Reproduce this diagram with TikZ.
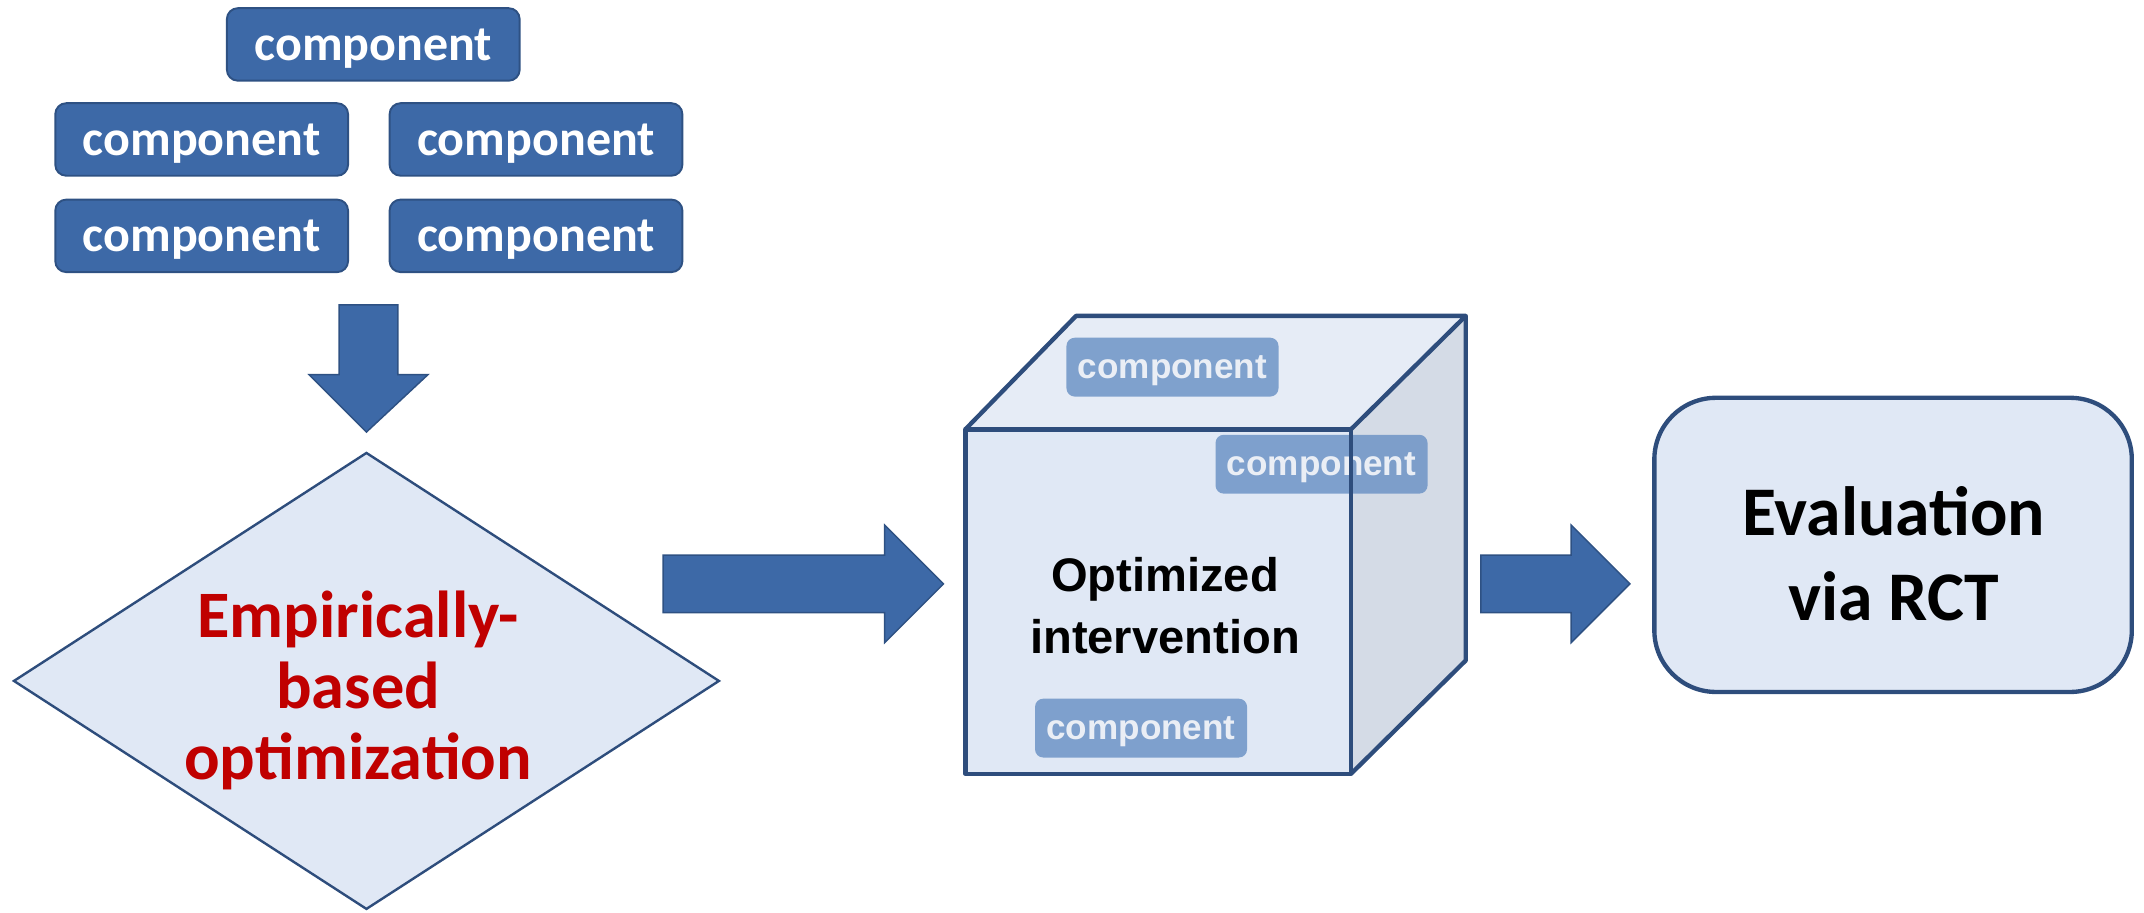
\documentclass[tikz,border=0pt]{standalone}
\usepackage{fontspec}
\setmainfont{Carlito}
\newfontfamily\arialfont{Liberation Sans}
\usetikzlibrary{shapes.geometric}
\definecolor{compblue}{RGB}{61,105,167}
\definecolor{compborder}{RGB}{46,81,131}
\definecolor{lightfill}{RGB}{224,232,245}
\definecolor{topface}{RGB}{230,236,246}
\definecolor{sideface}{RGB}{212,219,230}
\definecolor{edgeblue}{RGB}{46,77,124}
\definecolor{softblue}{RGB}{110,148,198}
\definecolor{softtext}{RGB}{240,243,248}
\definecolor{darkred}{RGB}{192,0,0}
\begin{document}
\begin{tikzpicture}[x=0.01cm,y=-0.01cm,
  comp/.style={draw=compborder, fill=compblue, rounded corners=0.08cm,
    minimum width=2.14cm, minimum height=0.53cm, inner sep=0pt, text=white, text depth=0pt,
    font=\fontsize{10.4}{12}\selectfont\bfseries},
  cubecomp/.style={fill=softblue, fill opacity=0.85, text opacity=0.95, rounded corners=0.06cm,
    minimum width=1.55cm, minimum height=0.43cm, inner sep=0pt, text=softtext, text depth=0pt,
    font=\arialfont\fontsize{7.3}{9}\selectfont\bfseries},
  blockarrow/.style={fill=compblue, draw=compborder, line width=0.3pt},
  cubeedge/.style={draw=edgeblue, line width=0.9pt, line join=round}
]
\useasboundingbox (0,0) rectangle (1568,667);

% components
\node[comp] (c1) at (273,32.5) {component};
\node[comp] (c2) at (147.5,102) {component};
\node[comp] (c3) at (392,102) {component};
\node[comp] (c4) at (147.5,172.5) {component};
\node[comp] (c5) at (392,172.5) {component};

% down arrow
\draw[blockarrow] (248,223) -- (291,223) -- (291,274) -- (313,274) -- (268,316) -- (226,274) -- (248,274) -- cycle;

% diamond
\node[diamond, draw=edgeblue, fill=lightfill, line width=0.5pt, minimum width=5.16cm, minimum height=3.34cm, inner sep=0pt] (opt) at (268,498) {};
\node[text=darkred, align=center, font=\fontsize{13.8}{14.8}\selectfont\bfseries] (optlabel) at (262,505) {Empirically-\\based\\optimization};

% arrow 1
\draw[blockarrow] (485,406) -- (647,406) -- (647,384) -- (690,427) -- (647,470) -- (647,448) -- (485,448) -- cycle;

% cube
\coordinate (ftl) at (706,314);
\coordinate (ftr) at (988,314);
\coordinate (fbl) at (706,566);
\coordinate (fbr) at (988,566);
\coordinate (btl) at (787,231);
\coordinate (btr) at (1072,231);
\coordinate (bbr) at (1072,483);
\fill[lightfill] (ftl) rectangle (fbr);
\fill[topface] (ftl) -- (btl) -- (btr) -- (ftr) -- cycle;
\fill[sideface] (ftr) -- (btr) -- (bbr) -- (fbr) -- cycle;
\node[cubecomp] (k1) at (857.5,268.5) {component};
\node[cubecomp] (k2) at (966.5,339.5) {component};
\node[cubecomp] (k3) at (834.5,532.5) {component};
\draw[cubeedge] (ftl) rectangle (fbr);
\draw[cubeedge] (ftl) -- (btl) -- (btr) -- (ftr);
\draw[cubeedge] (btr) -- (bbr) -- (fbr);
\node[align=center, font=\arialfont\fontsize{9.8}{12.8}\selectfont\bfseries] (cubelabel) at (852,443) {Optimized\\intervention};

% arrow 2
\draw[blockarrow] (1083,406) -- (1149,406) -- (1149,384) -- (1192,427) -- (1149,470) -- (1149,448) -- (1083,448) -- cycle;

% evaluation
\node[draw=edgeblue, fill=lightfill, line width=0.9pt, rounded corners=0.45cm, minimum width=3.49cm, minimum height=2.15cm, inner sep=0pt] (eval) at (1384.5,398.5) {};
\node[align=center, font=\fontsize{14.5}{17.6}\selectfont\bfseries] (evallabel) at (1385,405) {Evaluation\\via RCT};
\end{tikzpicture}
\end{document}
